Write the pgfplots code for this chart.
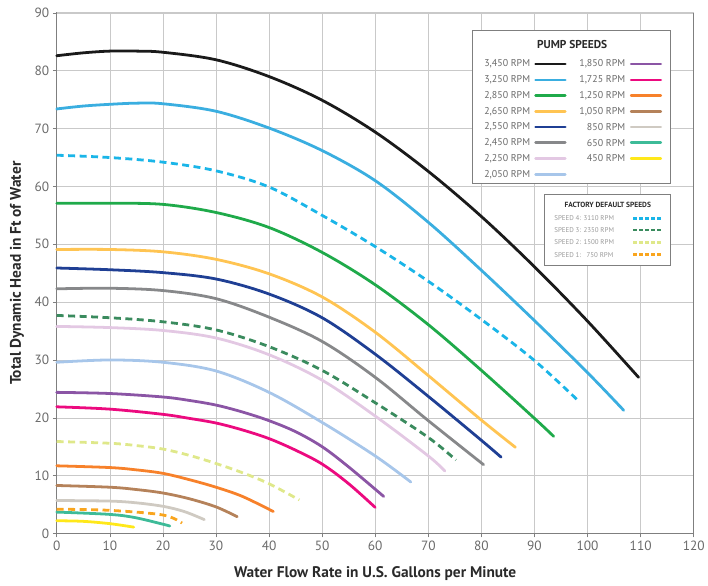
\documentclass[border=0pt]{standalone}
\usepackage{pgfplots}
\pgfplotsset{compat=1.18}
\usepackage{fontspec}
\setmainfont{PT Sans}
\definecolor{gridc}{HTML}{C9C9C9}
\definecolor{axisc}{HTML}{7F7F7F}
\definecolor{tickc}{HTML}{6A6A6A}
\definecolor{labc}{HTML}{2A2A2A}
\definecolor{cA}{HTML}{1A1A1A}
\definecolor{cB}{HTML}{3AAEE0}
\definecolor{cC}{HTML}{1FAA4A}
\definecolor{cD}{HTML}{FFC452}
\definecolor{cE}{HTML}{1F3F94}
\definecolor{cF}{HTML}{87888A}
\definecolor{cG}{HTML}{E3C8E3}
\definecolor{cH}{HTML}{A7C6EA}
\definecolor{cI}{HTML}{8B55A5}
\definecolor{cJ}{HTML}{EC0A7F}
\definecolor{cK}{HTML}{F7812A}
\definecolor{cL}{HTML}{B5825A}
\definecolor{cM}{HTML}{CFCAC2}
\definecolor{cN}{HTML}{3DBB98}
\definecolor{cO}{HTML}{FFE81A}
\definecolor{dA}{HTML}{1AB5E8}
\definecolor{dB}{HTML}{3A8B5E}
\definecolor{dC}{HTML}{DFE88A}
\definecolor{dD}{HTML}{F9A51E}
\tikzset{
  legtxt/.style={anchor=east, font=\fontsize{10}{10}\selectfont, text=tickc, inner sep=1bp},
  legtxtb/.style={anchor=west, font=\fontsize{7}{7}\selectfont, text=gray!80, inner sep=0bp},
  legln/.style={line width=2.6bp, line cap=round},
  legdash/.style={line width=2.6bp, dash pattern=on 4bp off 2bp},
}
\newcommand{\legL}[3]{\node[legtxt] at (axis cs:89.4,#3) {#1};\draw[#2,legln] (axis cs:90.2,#3) -- (axis cs:95.8,#3);}
\newcommand{\legR}[3]{\node[legtxt] at (axis cs:107.3,#3) {#1};\draw[#2,legln] (axis cs:108.2,#3) -- (axis cs:113.8,#3);}
\newcommand{\legF}[3]{\node[legtxtb] at (axis cs:93.7,#3) {#1};\draw[#2,legdash] (axis cs:108.6,#3) -- (axis cs:113.9,#3);}
\begin{document}
\begin{tikzpicture}
\begin{axis}[
  name=ax, at={(0,0)}, anchor=south west,
  width=640bp, height=523bp, scale only axis,
  xmin=0, xmax=120, ymin=0, ymax=90,
  xtick={0,10,...,120}, ytick={0,10,...,90},
  xtick pos=lower, ytick pos=left,
  grid=major, major grid style={draw=gridc, line width=0.6bp},
  axis line style={draw=axisc, line width=0.9bp},
  tick style={draw=axisc, line width=0.6bp}, tick align=outside, major tick length=4bp,
  ticklabel style={font=\fontsize{13.5}{13.5}\selectfont, text=tickc},
  /pgf/number format/assume math mode=true,
  /pgf/number format/1000 sep={},
  clip=false,
  every axis plot/.append style={line width=2.8bp, smooth, tension=0.55, no markers, line cap=round},
]
% solid curves
\addplot[cA] coordinates {(0,82.6)(5,83.1)(10,83.4)(15,83.4)(20,83.2)(30,81.9)(40,79.0)(50,74.9)(60,69.4)(70,62.6)(80,54.8)(90,46.1)(100,36.7)(109.6,27.0)};
\addplot[cB] coordinates {(0,73.4)(5,73.9)(10,74.2)(15,74.4)(20,74.3)(30,73.0)(40,70.1)(50,66.2)(60,61.0)(70,53.8)(80,45.5)(90,36.8)(100,27.8)(106.8,21.3)};
\addplot[cC] coordinates {(0,57.1)(10,57.1)(20,56.9)(30,55.5)(40,52.9)(50,48.6)(60,43.0)(70,36.1)(80,28.2)(90,19.9)(93.6,16.8)};
\addplot[cD] coordinates {(0,49.1)(10,49.1)(20,48.7)(30,47.4)(40,44.9)(50,40.9)(60,34.8)(70,27.3)(80,19.6)(86.4,14.9)};
\addplot[cE] coordinates {(0,45.9)(10,45.6)(20,45.1)(30,44.0)(40,41.4)(50,37.3)(60,31.0)(70,23.7)(80,16.1)(83.7,13.2)};
\addplot[cF] coordinates {(0,42.3)(10,42.4)(20,42.0)(30,40.6)(40,37.4)(50,33.2)(60,27.0)(70,19.5)(80.4,11.9)};
\addplot[cG] coordinates {(0,35.8)(10,35.6)(20,35.1)(30,33.8)(40,30.9)(50,26.5)(60,20.3)(70,13.4)(73.1,10.8)};
\addplot[cH] coordinates {(0,29.6)(10,30.0)(20,29.6)(30,28.1)(40,24.4)(50,19.2)(60,13.4)(66.7,8.9)};
\addplot[cI] coordinates {(0,24.4)(10,24.2)(20,23.6)(25,23.0)(30,22.2)(35,21.0)(40,19.5)(45,17.6)(50,15.0)(55,11.5)(61.6,6.4)};
\addplot[cJ] coordinates {(0,21.9)(10,21.5)(20,20.6)(25,19.9)(30,19.1)(35,17.9)(40,16.4)(45,14.4)(50,12.0)(55,8.6)(60,4.5)};
\addplot[cK] coordinates {(0,11.7)(10,11.4)(15,11.0)(20,10.4)(25,9.3)(30,8.0)(35,6.4)(40.8,3.8)};
\addplot[cL] coordinates {(0,8.3)(10,8.0)(15,7.6)(20,7.0)(25,6.0)(30,4.6)(34,2.9)};
\addplot[cM] coordinates {(0,5.7)(10,5.6)(15,5.3)(20,4.7)(24,3.8)(27.8,2.4)};
\addplot[cN] coordinates {(0,3.7)(10,3.3)(15,2.7)(21.3,1.3)};
\addplot[cO] coordinates {(0,2.2)(5,2.1)(10,1.7)(14.5,1.1)};
% dashed factory defaults
\addplot[dA, dash pattern=on 7bp off 4.5bp, line cap=butt] coordinates {(0,65.4)(10,65.0)(20,64.2)(30,62.7)(40,59.9)(50,55.0)(60,49.6)(70,43.6)(80,37.0)(90,29.9)(98.3,22.9)};
\addplot[dB, dash pattern=on 7bp off 4.5bp, line cap=butt] coordinates {(0,37.7)(10,37.3)(20,36.6)(30,35.2)(40,32.3)(50,28.2)(60,22.6)(70,16.6)(75.2,12.7)};
\addplot[dC, dash pattern=on 7bp off 4.5bp, line cap=butt] coordinates {(0,15.9)(10,15.6)(15,15.2)(20,14.6)(25,13.5)(30,12.1)(35,10.5)(40,8.6)(45.7,5.8)};
\addplot[dD, dash pattern=on 7bp off 4.5bp, line cap=butt] coordinates {(0,4.2)(10,4.0)(20,3.2)(23.6,1.8)};

% top border lighter
\draw[gridc, line width=0.9bp] (axis cs:0,90) -- (axis cs:120,90);

% axis labels
\node[rotate=90, font=\bfseries\fontsize{15.5}{15.5}\selectfont, text=labc] at ([xshift=-40bp]rel axis cs:0,0.5) {Total Dynamic Head in Ft of Water};
\node[font=\bfseries\fontsize{15.5}{15.5}\selectfont, text=labc] at ([yshift=-40.5bp]rel axis cs:0.5,0) {Water Flow Rate in U.S. Gallons per Minute};

% pump speeds legend
\draw[axisc, fill=white, line width=0.9bp] (axis cs:78.4,60.6) rectangle (axis cs:115.7,86.9);
\node[font=\bfseries\fontsize{11.5}{11.5}\selectfont, text=labc] at (axis cs:97.1,84.6) {PUMP SPEEDS};
\legL{3,450 RPM}{cA}{81.15}
\legL{3,250 RPM}{cB}{78.43}
\legL{2,850 RPM}{cC}{75.71}
\legL{2,650 RPM}{cD}{72.99}
\legL{2,550 RPM}{cE}{70.27}
\legL{2,450 RPM}{cF}{67.55}
\legL{2,250 RPM}{cG}{64.83}
\legL{2,050 RPM}{cH}{62.11}
\legR{1,850 RPM}{cI}{81.15}
\legR{1,725 RPM}{cJ}{78.43}
\legR{1,250 RPM}{cK}{75.71}
\legR{1,050 RPM}{cL}{72.99}
\legR{850 RPM}{cM}{70.27}
\legR{650 RPM}{cN}{67.55}
\legR{450 RPM}{cO}{64.83}

% factory default legend
\draw[axisc, fill=white, line width=0.9bp] (axis cs:91.8,46.3) rectangle (axis cs:115.7,58.6);
\node[font=\bfseries\fontsize{7.5}{7.5}\selectfont, text=labc] at (axis cs:103.8,56.8) {FACTORY DEFAULT SPEEDS};
\legF{SPEED 4: 3110 RPM}{dA}{54.5}
\legF{SPEED 3: 2350 RPM}{dB}{52.5}
\legF{SPEED 2: 1500 RPM}{dC}{50.3}
\legF{SPEED 1:\ \ \ 750 RPM}{dD}{48.2}
\end{axis}
\path ([xshift=-57bp,yshift=-52bp]ax.south west) rectangle ([xshift=11bp,yshift=13bp]ax.north east);
\end{tikzpicture}
\end{document}
